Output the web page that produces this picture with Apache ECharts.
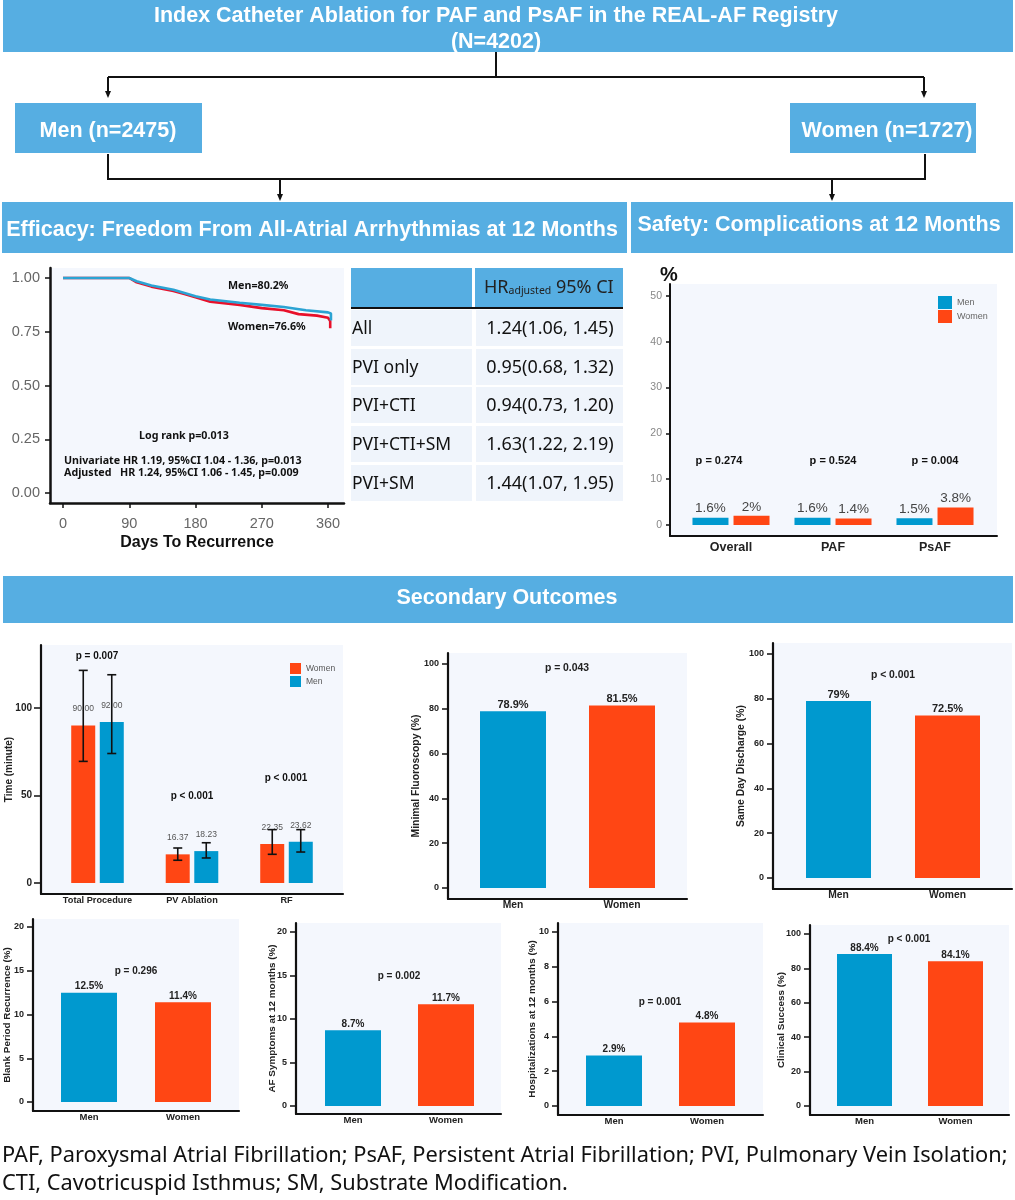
<!DOCTYPE html>
<html><head><meta charset="utf-8">
<style>html,body{margin:0;padding:0;background:#fff}#c{width:1015px;height:1200px}</style>
<script src="https://cdn.jsdelivr.net/npm/echarts@6/dist/echarts.min.js"></script>
</head><body><div id="c"></div>
<script>
// ---- data ----
const kmMen = [[0,1],[90,1],[100,.985],[120,.965],[150,.945],[165,.93],[180,.915],[200,.9],[240,.885],[270,.875],[300,.865],[330,.85],[360,.84],[364,.835],[364,.802]];
const kmWomen = [[0,1],[90,1],[100,.98],[120,.96],[150,.94],[165,.925],[180,.91],[200,.89],[240,.875],[270,.86],[300,.85],[320,.832],[345,.825],[360,.815],[363,.8],[363,.766]];
const kmXTicks = [0,90,180,270,360];
const kmYTicks = [0,.25,.5,.75,1];
const tableRows = ['All','PVI only','PVI+CTI','PVI+CTI+SM','PVI+SM'];
const tableHR = ['1.24(1.06, 1.45)','0.95(0.68, 1.32)','0.94(0.73, 1.20)','1.63(1.22, 2.19)','1.44(1.07, 1.95)'];
const safetyCats = ['Overall','PAF','PsAF'];
const safetyMen = [1.6,1.6,1.5];
const safetyWomen = [2,1.4,3.8];
const safetyP = ['p = 0.274','p = 0.524','p = 0.004'];
const timeCats = ['Total Procedure','PV Ablation','RF'];
const timeWomen = [90,16.37,22.35];
const timeMen = [92,18.23,23.62];
const timeWomenLow = [69.5,13,16.4];
const timeWomenHigh = [121.5,20,30.5];
const timeMenLow = [74,14.3,17.7];
const timeMenHigh = [119,23,30.5];
const timeP = ['p = 0.007','p < 0.001','p < 0.001'];
const sexCats = ['Men','Women'];
const fluoro = [78.9,81.5];
const sameDay = [79,72.5];
const blank = [12.5,11.4];
const afSymptoms = [8.7,11.7];
const hospital = [2.9,4.8];
const clinical = [88.4,84.1];

// ---- style ----
const BOX='#56AEE2', MEN='#0099CF', WOMEN='#FF4614', PANEL='#F4F7FD', SANS='"Liberation Sans",Arial,sans-serif', NOTO='"Noto Sans",sans-serif';
const grids=[], xAxes=[], yAxes=[], series=[], gfx=[], legends=[];

function txt(x,y,text,font,fill,align){gfx.push({type:'text',z:20,silent:true,style:{x,y,text,font,fill:fill||'#111',textAlign:align||'center',textVerticalAlign:'middle'}});}
function rect(x,y,w,h,fill){gfx.push({type:'rect',z:5,silent:true,shape:{x,y,width:w,height:h},style:{fill}});}
function path(pts){gfx.push({type:'polyline',z:6,silent:true,shape:{points:pts},style:{stroke:'#111',lineWidth:2,fill:null}});}
function arrow(x,y0,y1){path([[x,y0],[x,y1-6]]);gfx.push({type:'polygon',z:6,silent:true,shape:{points:[[x-3,y1-7],[x+3,y1-7],[x,y1]]},style:{fill:'#111'}});}

// One panel: grid + axes; pixel anchors give the scale ranges, the library does all mark placement.
function panel(o){
  const i=grids.length;
  grids.push({show:true,backgroundColor:PANEL,borderWidth:0,left:o.l,top:o.t,width:o.r-o.l,height:o.b-o.t,containLabel:false,outerBoundsMode:'none'});
  const ppu=(o.y0-o.yTopPx)/o.yTopVal, xppu=o.xppu;
  const ln={onZero:false,lineStyle:{color:'#111',width:o.axisW||2.2}};
  xAxes.push({type:'value',gridIndex:i,
    min:(o.l-o.c0)/xppu, max:(o.r-o.c0)/xppu,
    axisLine:ln,splitLine:{show:false},
    axisTick:o.xTick?{show:true,customValues:o.xTicks,length:5,lineStyle:{color:'#111',width:1.5}}:{show:false},
    axisLabel:{customValues:o.xTicks,margin:o.xMargin===undefined?1:o.xMargin,hideOverlap:false,showMinLabel:true,showMaxLabel:true,
      formatter:o.xFmt,color:o.xColor||'#222',fontFamily:SANS,fontWeight:o.xWeight||'bold',fontSize:o.xSize||9.5},
    name:o.xName||'',nameLocation:'middle',nameGap:o.xNameGap||0,nameMoveOverlap:false,nameTextStyle:{fontFamily:SANS,fontWeight:'bold',fontSize:16,color:'#111'}});
  yAxes.push({type:'value',gridIndex:i,min:-(o.b-o.y0)/ppu,max:(o.y0-o.t)/ppu,
    axisLine:ln,splitLine:{show:false},
    axisTick:{show:true,customValues:o.yTicks,length:o.tickLen||6,lineStyle:{color:'#111',width:1.5}},
    axisLabel:{customValues:o.yTicks,margin:o.yMargin||9,showMinLabel:true,showMaxLabel:true,formatter:o.yFmt,color:o.yColor||'#222',fontFamily:SANS,fontWeight:o.yWeight||'bold',fontSize:o.ySize||9},
    name:o.yName||'',nameLocation:'middle',nameGap:o.yGap||0,nameRotate:90,nameMoveOverlap:false,nameTextStyle:{fontFamily:SANS,fontWeight:'bold',fontSize:o.yNameSize||9.9,color:'#222'}});
  return i;
}
function barLabel(size,color,dist,fmt,weight){return {show:true,position:'top',distance:dist,fontFamily:SANS,fontSize:size,color,fontWeight:weight||'bold',formatter:fmt};}

// ---- header flow ----
const hf='bold 21.5px '+SANS;
rect(3,0,1010,52,BOX);
txt(496,16,'Index Catheter Ablation for PAF and PsAF in the REAL-AF Registry',hf,'#fff');
txt(496,42,'(N=4202)',hf,'#fff');
rect(15,103,187,50,BOX); txt(108,131,'Men (n=2475)',hf,'#fff');
rect(790,103,186,50,BOX); txt(887,131,'Women (n=1727)',hf,'#fff');
rect(2,202,625,51,BOX); txt(312,230,'Efficacy: Freedom From All-Atrial Arrhythmias at 12 Months',hf,'#fff');
rect(631,202,382,51,BOX); txt(819,225,'Safety: Complications at 12 Months',hf,'#fff');
rect(3,576,1010,47,BOX); txt(507,598,'Secondary Outcomes',hf,'#fff');
path([[496,52],[496,77]]); path([[108,77],[924,77]]);
arrow(108,77,98); arrow(924,77,98);
path([[108,154],[108,179],[925,179],[925,154]]);
arrow(280,179,201); arrow(832,179,201);

// ---- KM ----
{
  const i=panel({l:50,r:344,t:268,b:503,y0:493,yTopPx:278,yTopVal:1,c0:63,xppu:265/360,
    xTicks:kmXTicks,yTicks:kmYTicks,xTick:true,xFmt:v=>String(v),yFmt:v=>v.toFixed(2),
    xColor:'#666',xWeight:'normal',xSize:14.5,xMargin:13,yColor:'#666',yWeight:'normal',ySize:14.5,yMargin:10,tickLen:5,
    xName:'Days To Recurrence',xNameGap:32,axisW:2.5});
  const ln=(name,data,color,z)=>series.push({type:'line',name,data,xAxisIndex:i,yAxisIndex:i,showSymbol:false,silent:true,z,lineStyle:{color,width:2.6},itemStyle:{color}});
  ln('Women recurrence-free',kmWomen,'#E8102A',3);
  ln('Men recurrence-free',kmMen,'#2BA3D3',4);
  const f='bold 10.7px '+NOTO;
  txt(228,286,'Men=80.2%',f,'#111','left');
  txt(228,327,'Women=76.6%',f,'#111','left');
  txt(139,436,'Log rank p=0.013',f,'#111','left');
  txt(64,461,'Univariate HR 1.19, 95%CI 1.04 - 1.36, p=0.013',f,'#111','left');
  txt(64,473,'Adjusted',f,'#111','left');
  txt(120,473,'HR 1.24, 95%CI 1.06 - 1.45, p=0.009',f,'#111','left');
}

// ---- table ----
{
  rect(351,268,121,39,BOX); rect(475,268,148,39,BOX);
  rect(351,307,272,2,'#111');
  gfx.push({type:'text',z:20,silent:true,style:{x:484,y:288,textAlign:'left',textVerticalAlign:'middle',
    text:'{a|HR}{s|adjusted}{a| 95% CI}',rich:{a:{fontFamily:NOTO,fontSize:18,fill:'#222',color:'#222'},s:{fontFamily:NOTO,fontSize:10.5,fill:'#222',color:'#222',verticalAlign:'bottom',padding:[6,0,0,0]}}}});
  const tops=[310,349,387,426,465];
  tableRows.forEach((r,k)=>{
    rect(351,tops[k],121,36,'#EFF4FB'); rect(476,tops[k],147,36,'#EFF4FB');
    txt(352,tops[k]+19,r,'17.5px '+NOTO,'#111','left');
    txt(550,tops[k]+19,tableHR[k],'18px '+NOTO,'#111');
  });
}

// ---- safety ----
{
  const i=panel({l:670,r:997,t:284,b:536,y0:525,yTopPx:296,yTopVal:50,c0:731,xppu:102,
    xTicks:[0,1,2],yTicks:[0,10,20,30,40,50],xFmt:v=>safetyCats[v],xSize:12.5,xMargin:5,
    yColor:'#888',yWeight:'normal',ySize:10.5,yMargin:8,tickLen:4,axisW:2});
  const fmt=p=>p.value[1]+'%';
  const l=barLabel(13.5,'#444',2,fmt,'normal');
  series.push({type:'bar',name:'Men',xAxisIndex:i,yAxisIndex:i,barWidth:36,barGap:'14%',silent:true,itemStyle:{color:MEN},label:l,data:safetyMen.map((v,k)=>[k,v])});
  series.push({type:'bar',name:'Women',xAxisIndex:i,yAxisIndex:i,barWidth:36,barGap:'14%',silent:true,itemStyle:{color:WOMEN},label:l,data:safetyWomen.map((v,k)=>[k,v])});
  [719,833,935].forEach((x,k)=>txt(x,461,safetyP[k],'bold 11px '+SANS));
  txt(669,275,'%','bold 20px '+SANS);
  legends.push({orient:'vertical',left:938,top:296,itemWidth:14,itemHeight:13,itemGap:1,selectedMode:false,icon:'rect',
    data:[{name:'Men',itemStyle:{color:MEN}},{name:'Women',itemStyle:{color:WOMEN}}],textStyle:{fontFamily:SANS,fontSize:9,color:'#666'},padding:0});
}

// ---- procedure time ----
{
  const i=panel({l:41,r:343,t:645,b:894,y0:883,yTopPx:708,yTopVal:100,c0:97.5,xppu:94.5,
    xTicks:[0,1,2],yTicks:[0,50,100],xFmt:v=>timeCats[v],xSize:9.2,xMargin:2,ySize:10,yMargin:9,tickLen:7,
    yName:'Time (minute)',yGap:27,yNameSize:10});
  const fmt=p=>p.value[1].toFixed(2);
  const l=barLabel(8.5,'#555',12,fmt,'normal');
  series.push({type:'bar',name:'Women',xAxisIndex:i,yAxisIndex:i,barWidth:24,barGap:'19%',silent:true,itemStyle:{color:WOMEN},label:l,data:timeWomen.map((v,k)=>[k,v])});
  series.push({type:'bar',name:'Men',xAxisIndex:i,yAxisIndex:i,barWidth:24,barGap:'19%',silent:true,itemStyle:{color:MEN},label:l,data:timeMen.map((v,k)=>[k,v])});
  const err=(lows,highs,dx)=>series.push({type:'custom',xAxisIndex:i,yAxisIndex:i,silent:true,z:10,
    data:lows.map((v,k)=>[k,v,highs[k]]),
    encode:{x:0,y:[1,2]},
    renderItem:(p,api)=>{
      const a=api.coord([api.value(0),api.value(1)]),b=api.coord([api.value(0),api.value(2)]);
      const x=a[0]+dx,st={stroke:'#111',lineWidth:1.6};
      return {type:'group',children:[
        {type:'line',shape:{x1:x,y1:a[1],x2:x,y2:b[1]},style:st},
        {type:'line',shape:{x1:x-4.5,y1:a[1],x2:x+4.5,y2:a[1]},style:st},
        {type:'line',shape:{x1:x-4.5,y1:b[1],x2:x+4.5,y2:b[1]},style:st}]};
    }});
  err(timeWomenLow,timeWomenHigh,-14.25);
  err(timeMenLow,timeMenHigh,14.25);
  [[97,656],[192,796],[286,778]].forEach((q,k)=>txt(q[0],q[1],timeP[k],'bold 10px '+SANS));
  legends.push({orient:'vertical',left:290,top:663,itemWidth:11,itemHeight:11,itemGap:2,selectedMode:false,icon:'rect',
    data:[{name:'Women',itemStyle:{color:WOMEN}},{name:'Men',itemStyle:{color:MEN}}],textStyle:{fontFamily:SANS,fontSize:8.5,color:'#555'},padding:0});
}

// ---- two-bar outcome panels ----
function sexPlot(o){
  const i=panel(Object.assign({xppu:o.c1-o.c0,xTicks:[0,1],xFmt:v=>sexCats[v],ySize:9,xSize:9.5},o));
  series.push({type:'bar',name:o.yName,xAxisIndex:i,yAxisIndex:i,barWidth:o.bw,silent:true,
    label:barLabel(o.labelSize||10,'#222',1,p=>p.value[1]+'%'),
    data:o.values.map((v,k)=>({value:[k,v],itemStyle:{color:k?WOMEN:MEN}}))});
  txt(o.px,o.py,o.p,'bold '+(o.pSize||10)+'px '+SANS,'#222');
}
sexPlot({values:fluoro,yName:'Minimal Fluoroscopy (%)',yGap:27,yNameSize:10.4,xSize:10.3,labelSize:11,pSize:10.4,l:448,r:687,t:653,b:899,y0:888,yTopPx:664,yTopVal:100,c0:513,c1:622,bw:66,yTicks:[0,20,40,60,80,100],p:'p = 0.043',px:567,py:668});
sexPlot({values:sameDay,yName:'Same Day Discharge (%)',yGap:27,yNameSize:10.4,xSize:10.3,labelSize:11,pSize:10.4,l:773,r:1012,t:643,b:889,y0:878,yTopPx:654,yTopVal:100,c0:838.5,c1:947.5,bw:65,yTicks:[0,20,40,60,80,100],p:'p < 0.001',px:893,py:675});
sexPlot({values:blank,yName:'Blank Period Recurrence (%)',yGap:21,l:33,r:239,t:919,b:1111,y0:1102,yTopPx:927,yTopVal:20,c0:89,c1:183,bw:56,yTicks:[0,5,10,15,20],p:'p = 0.296',px:136,py:971});
sexPlot({values:afSymptoms,yName:'AF Symptoms at 12 months (%)',yGap:19,l:296,r:501,t:923,b:1114,y0:1106,yTopPx:932,yTopVal:20,c0:353,c1:446,bw:56,yTicks:[0,5,10,15,20],p:'p = 0.002',px:399,py:976});
sexPlot({values:hospital,yName:'Hospitalizations at 12 months (%)',yGap:21,l:558,r:763,t:923,b:1115,y0:1106,yTopPx:932,yTopVal:10,c0:614,c1:707,bw:56,yTicks:[0,2,4,6,8,10],p:'p = 0.001',px:660,py:1002});
sexPlot({values:clinical,yName:'Clinical Success (%)',yGap:24,l:810,r:1009,t:925,b:1115,y0:1106,yTopPx:934,yTopVal:100,c0:864.5,c1:955.5,bw:55,yTicks:[0,20,40,60,80,100],p:'p < 0.001',px:909,py:939});

// ---- footer ----
txt(2,1156,'PAF, Paroxysmal Atrial Fibrillation; PsAF, Persistent Atrial Fibrillation; PVI, Pulmonary Vein Isolation;','21.8px '+NOTO,'#111','left');
txt(2,1184,'CTI, Cavotricuspid Isthmus; SM, Substrate Modification.','21.8px '+NOTO,'#111','left');

const chart=echarts.init(document.getElementById('c'),null,{renderer:'canvas',width:1015,height:1200});
chart.setOption({animation:false,backgroundColor:'#fff',tooltip:{show:false},grid:grids,xAxis:xAxes,yAxis:yAxes,series,legend:legends,graphic:{elements:gfx}});
</script></body></html>
